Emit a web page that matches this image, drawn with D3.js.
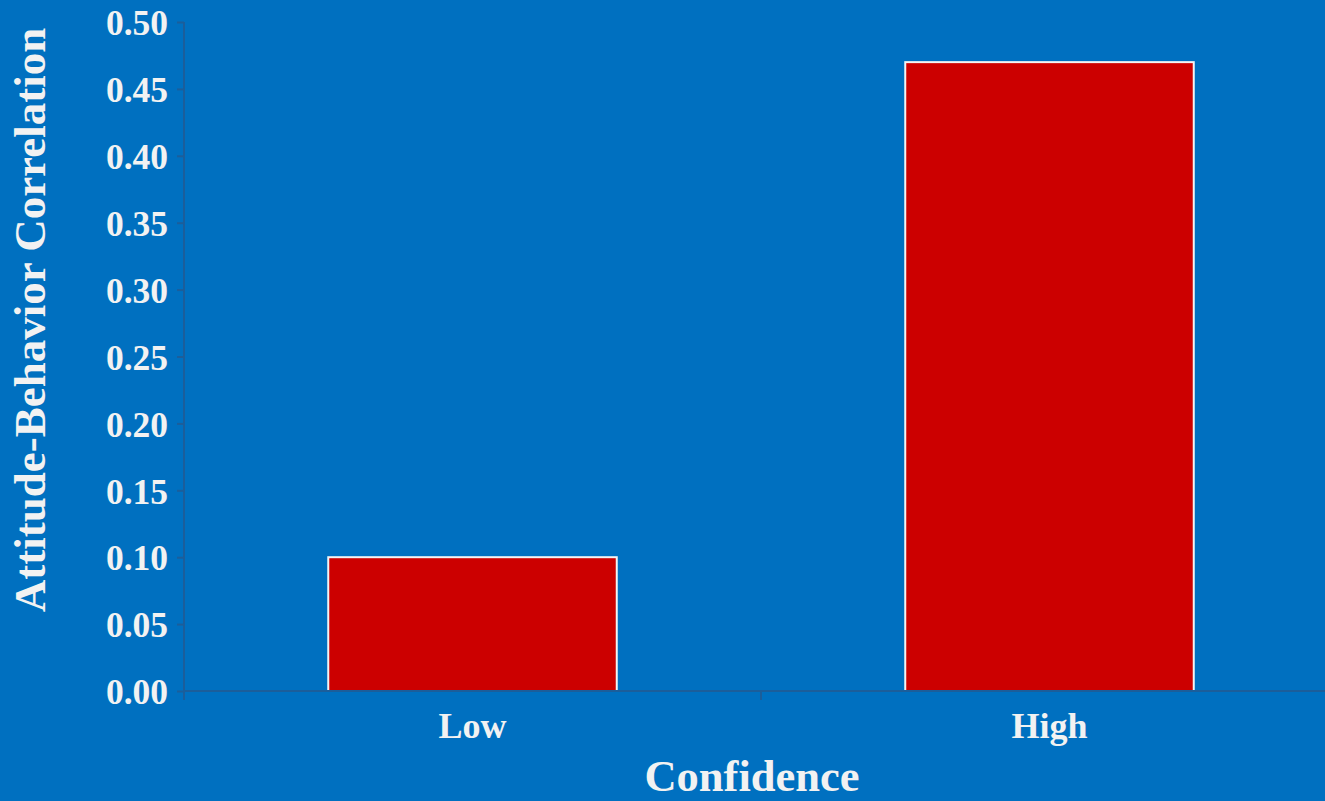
<!DOCTYPE html>
<html>
<head>
<meta charset="utf-8">
<script src="https://cdn.jsdelivr.net/npm/d3@7"></script>
<style>
  html, body { margin: 0; padding: 0; background: #0070C0; overflow: hidden; }
  svg { display: block; }
  text { font-family: "Liberation Serif", "Times New Roman", serif; font-weight: bold; fill: #F2F2F2; }
</style>
</head>
<body>
<svg id="chart" width="1325" height="801"></svg>
<script>
// Attitude-behavior correlation by confidence level
const categories = ["Low", "High"];
const correlations = [0.10, 0.47];
const yTicks = [0, 0.05, 0.10, 0.15, 0.20, 0.25, 0.30, 0.35, 0.40, 0.45, 0.50];
const xTitle = "Confidence";
const yTitle = "Attitude-Behavior Correlation";

const W = 1325, H = 801;
const plotLeft = 184, plotRight = 1338, plotTop = 22, plotBottom = 691;
const axisColor = "#1B5E9B";

const svg = d3.select("#chart");
svg.append("rect").attr("width", W).attr("height", H).attr("fill", "#0070C0");

const x = d3.scaleBand().domain(categories).range([plotLeft, plotRight])
  .paddingInner(0.5).paddingOuter(0.25);
const y = d3.scaleLinear().domain([0, 0.5]).range([plotBottom, plotTop]);

// Bars
svg.append("g").selectAll("rect").data(categories).join("rect")
  .attr("x", d => x(d))
  .attr("y", (d, i) => y(correlations[i]))
  .attr("width", x.bandwidth())
  .attr("height", (d, i) => y(0) - y(correlations[i]))
  .attr("fill", "#CC0000")
  .attr("stroke", "#F4F4F4")
  .attr("stroke-width", 2);

// Y axis
const yAxis = svg.append("g").attr("transform", `translate(${plotLeft},0)`)
  .call(d3.axisLeft(y).tickValues(yTicks).tickFormat(d3.format(".2f"))
    .tickSize(7).tickPadding(9));
yAxis.select(".domain").attr("stroke", axisColor).attr("stroke-width", 2)
  .attr("d", `M0,${plotTop}V${plotBottom + 9}`);
yAxis.selectAll(".tick line").attr("stroke", axisColor).attr("stroke-width", 2);
yAxis.selectAll(".tick text").style("font-size", "35.5px").attr("fill", "#F2F2F2")
  .attr("dy", "0.36em");

// X axis with ticks between categories
const xAxis = svg.append("g").attr("transform", `translate(0,${plotBottom})`);
xAxis.append("line").attr("x1", plotLeft).attr("x2", W)
  .attr("stroke", axisColor).attr("stroke-width", 2);
const step = x.step();
const boundaries = d3.range(categories.length + 1).map(i => plotLeft + i * step);
xAxis.selectAll("line.tk").data(boundaries).join("line").attr("class", "tk")
  .attr("x1", d => d).attr("x2", d => d).attr("y1", 0).attr("y2", 9)
  .attr("stroke", axisColor).attr("stroke-width", 2);
xAxis.selectAll("text").data(categories).join("text")
  .attr("x", d => x(d) + x.bandwidth() / 2)
  .attr("y", 47)
  .attr("text-anchor", "middle")
  .style("font-size", "36px")
  .text(d => d);

// Axis titles
svg.append("text")
  .attr("x", 752).attr("y", 791)
  .attr("text-anchor", "middle")
  .style("font-size", "44.5px")
  .text(xTitle);

svg.append("text")
  .attr("transform", `translate(45,${(plotTop + 612) / 2 + 3}) rotate(-90)`)
  .attr("text-anchor", "middle")
  .style("font-size", "45px")
  .text(yTitle);
</script>
</body>
</html>
